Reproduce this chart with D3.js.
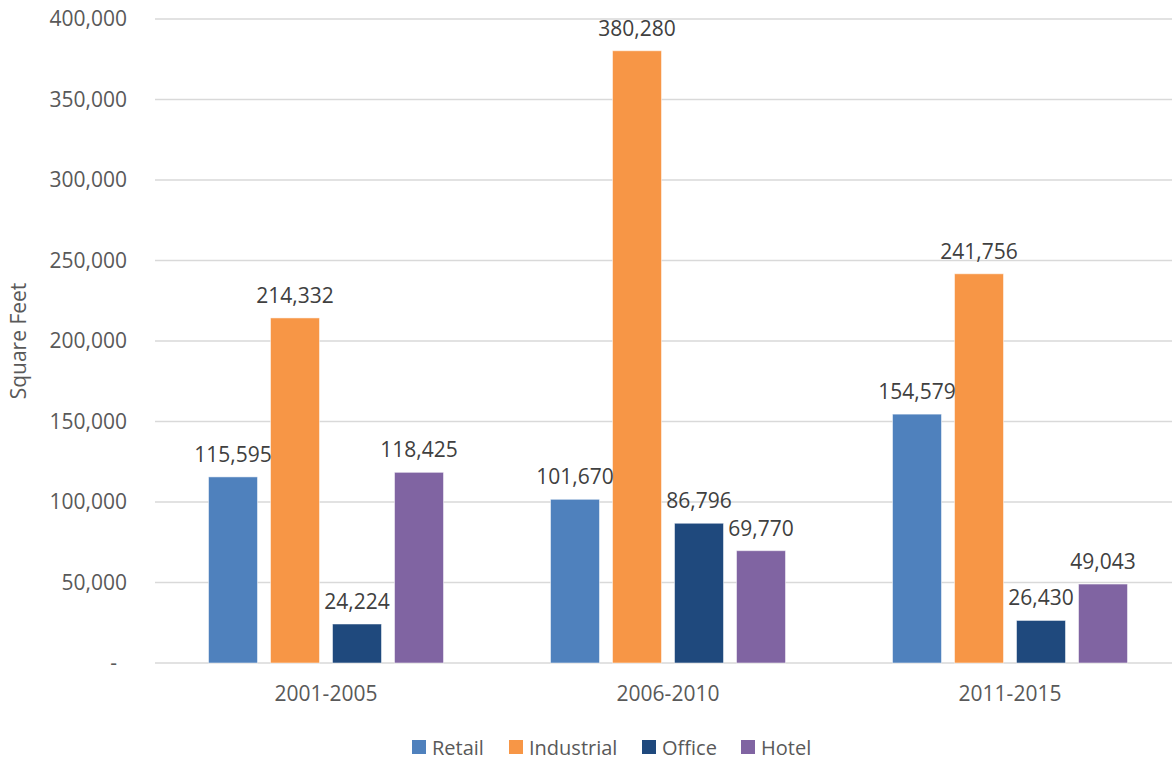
<!DOCTYPE html>
<html>
<head>
<meta charset="utf-8">
<script src="https://cdn.jsdelivr.net/npm/d3@7"></script>
<style>
  html, body { margin: 0; padding: 0; background: #fff; }
  svg { display: block; font-family: "Open Sans", "Noto Sans", sans-serif; }
</style>
</head>
<body>
<svg id="chart" width="1172" height="761"></svg>
<script>
// Square footage built, by period and property type
const periods = ["2001-2005", "2006-2010", "2011-2015"];
const seriesNames = ["Retail", "Industrial", "Office", "Hotel"];
const retail = [115595, 101670, 154579];
const industrial = [214332, 380280, 241756];
const office = [24224, 86796, 26430];
const hotel = [118425, 69770, 49043];
const yTicks = [0, 50000, 100000, 150000, 200000, 250000, 300000, 350000, 400000];
const colors = ["#4f81bd", "#f79646", "#1f497d", "#8064a2"];

const seriesValues = [retail, industrial, office, hotel];
const rows = periods.map((p, i) => ({
  period: p,
  values: seriesNames.map((s, k) => ({ name: s, value: seriesValues[k][i], color: colors[k] }))
}));

const svg = d3.select("#chart");
const margin = { left: 155, right: -9, top: 19, bottom: 98 };
const W = 1172, H = 761;

const x0 = d3.scaleBand().domain(periods).range([margin.left, W - margin.right]).paddingInner(0).paddingOuter(0);
const x1 = d3.scaleBand().domain(seriesNames).range([0, x0.bandwidth()]).paddingInner(0.21).paddingOuter(0.863);
const y = d3.scaleLinear().domain([0, 400000]).range([H - margin.bottom, margin.top]);

const fmt = d3.format(",");
const fontFam = "'Open Sans', 'Noto Sans', sans-serif";

// gridlines
svg.append("g").selectAll("line").data(yTicks).join("line")
  .attr("x1", margin.left).attr("x2", W)
  .attr("y1", d => y(d)).attr("y2", d => y(d))
  .attr("stroke", "#d9d9d9").attr("stroke-width", 1.3);

// y axis labels
const yAxis = d3.axisLeft(y).tickValues(yTicks).tickSize(0).tickPadding(0)
  .tickFormat(d => d === 0 ? "-" : fmt(d));
const ya = svg.append("g").attr("transform", `translate(127,0)`).call(yAxis);
ya.select(".domain").remove();
ya.selectAll("text").attr("fill", "#595959").style("font-size", "21px")
  .style("font-family", fontFam);
ya.selectAll(".tick").filter(d => d === 0).select("text").attr("dx", "-10");

// x axis labels
const xAxis = d3.axisBottom(x0).tickSize(0).tickPadding(0);
const xa = svg.append("g").attr("transform", `translate(0,${H - margin.bottom + 23})`).call(xAxis);
xa.select(".domain").remove();
xa.selectAll("text").attr("fill", "#595959").style("font-size", "21px")
  .style("font-family", fontFam);

// bars
const groups = svg.append("g").selectAll("g").data(rows).join("g")
  .attr("transform", d => `translate(${x0(d.period)},0)`);
groups.selectAll("rect").data(d => d.values).join("rect")
  .attr("x", d => x1(d.name))
  .attr("y", d => y(d.value))
  .attr("width", x1.bandwidth())
  .attr("height", d => y(0) - y(d.value))
  .attr("fill", d => d.color)
  .attr("stroke", "#ffffff").attr("stroke-opacity", 0.5).attr("stroke-width", 1);

// value labels
groups.selectAll("text.val").data(d => d.values).join("text")
  .attr("class", "val")
  .attr("x", d => x1(d.name) + x1.bandwidth() / 2)
  .attr("y", d => y(d.value) - 15)
  .attr("text-anchor", "middle")
  .attr("fill", "#404040")
  .style("font-size", "21px")
  .text(d => fmt(d.value));

// y axis title
svg.append("text")
  .attr("transform", `translate(26,${(margin.top + H - margin.bottom) / 2}) rotate(-90)`)
  .attr("text-anchor", "middle")
  .attr("fill", "#595959")
  .style("font-size", "21px")
  .text("Square Feet");

// legend
const legendX = [412, 509, 642, 741];
const lg = svg.append("g").selectAll("g").data(seriesNames).join("g")
  .attr("transform", (d, i) => `translate(${legendX[i]},740)`);
lg.append("rect").attr("width", 14).attr("height", 14).attr("fill", (d, i) => colors[i]);
lg.append("text").attr("x", 20).attr("y", 15)
  .attr("fill", "#595959").style("font-size", "20px").text(d => d);
</script>
</body>
</html>
